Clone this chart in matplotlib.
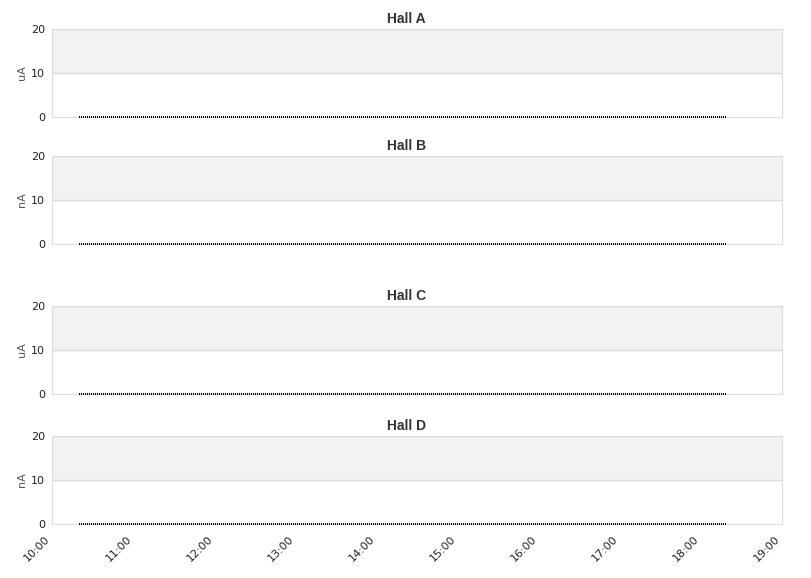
import numpy as np
import matplotlib
matplotlib.use("Agg")
import matplotlib.pyplot as plt
import matplotlib.dates as mdates
from datetime import datetime

halls = ["Hall A", "Hall B", "Hall C", "Hall D"]
units = ["uA", "nA", "uA", "nA"]
t_start = datetime(2024, 1, 1, 10, 20)
t_end = datetime(2024, 1, 1, 18, 19)
current = [[0, 0], [0, 0], [0, 0], [0, 0]]
x_min = datetime(2024, 1, 1, 10, 0)
x_max = datetime(2024, 1, 1, 19, 0)

fig = plt.figure(figsize=(8.11, 5.78), dpi=100)

# pixel tops of each panel, all 88 px high
tops = [29, 156, 306, 436]
H = 578.0
left = 52 / 811.0
width = 730 / 811.0
ph = 88 / H

grid_c = "#dcdcdc"
for i, name in enumerate(halls):
    bottom = 1 - (tops[i] + 88) / H
    ax = fig.add_axes([left, bottom, width, ph])
    ax.axhspan(10, 20, color="#f2f2f2", zorder=0)
    ax.axhline(10, color=grid_c, lw=1, zorder=1)
    ax.axhline(20, color=grid_c, lw=1, zorder=1)
    ax.plot([t_start, t_end], current[i], color="black", lw=1.44,
            ls=(0, (0.5, 0.7)), zorder=3, clip_on=False, antialiased=False)
    ax.set_xlim(x_min, x_max)
    ax.set_ylim(0, 20)
    ax.set_yticks([0, 10, 20])
    for s in ax.spines.values():
        s.set_color(grid_c)
    ax.tick_params(length=0, labelsize=8, colors="#222222")
    ax.tick_params(axis="y", pad=5)
    ax.set_ylabel(units[i], fontsize=8, color="#555555", labelpad=3)
    ax.set_title(name, fontsize=10, fontweight="bold", color="#333333", pad=4,
                 x=0.486, family=["Liberation Sans", "DejaVu Sans"])
    ax.xaxis.set_major_locator(mdates.HourLocator())
    ax.xaxis.set_major_formatter(mdates.DateFormatter("%H:%M"))
    if i < 3:
        ax.set_xticklabels([])
    else:
        for lab in ax.get_xticklabels():
            lab.set_rotation(45)
            lab.set_ha("right")
            lab.set_va("bottom")
            lab.set_rotation_mode("anchor")
            lab.set_fontsize(8)
        ax.tick_params(axis="x", pad=12)

fig.savefig("out.png", dpi=100)
